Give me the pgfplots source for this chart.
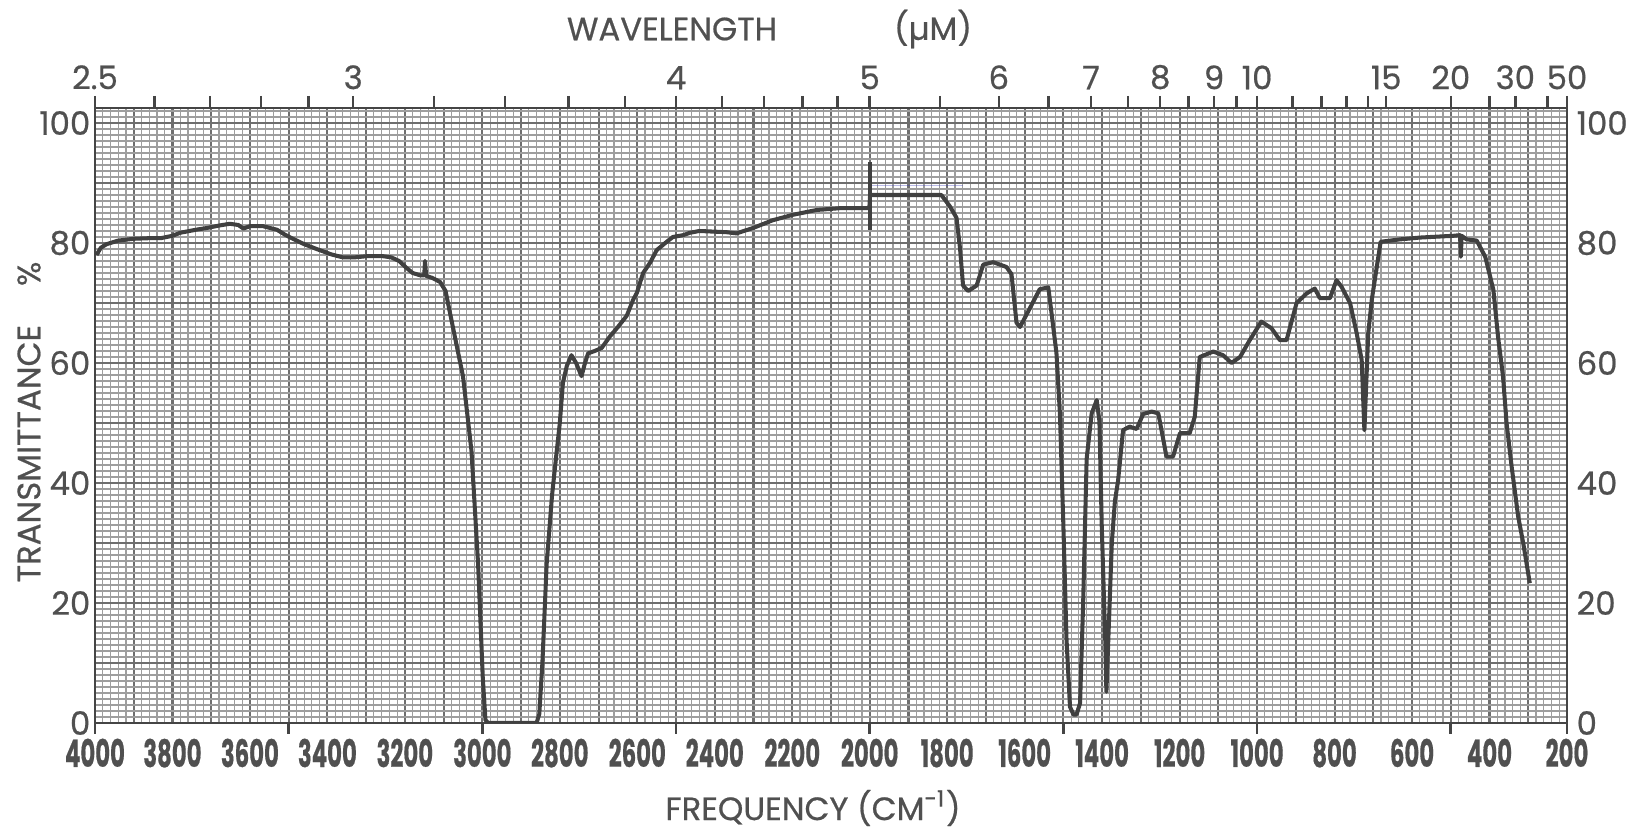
\documentclass[border=0pt]{standalone}
\usepackage{pgfplots}
\pgfplotsset{compat=1.18}
\usepackage{fontspec}
\setmainfont{Poppins}
\newfontfamily\medfont{Poppins}[FakeBold=0.6]
\usepackage{graphicx}
\definecolor{txt}{HTML}{505050}
\definecolor{ink}{HTML}{404040}
\definecolor{frame}{HTML}{454545}
\definecolor{gmaj}{HTML}{6E6E6E}
\definecolor{gmin}{HTML}{9E9E9E}
\newcommand{\cn}[1]{\scalebox{0.6}[1]{\fontsize{10.8}{12}\selectfont\bfseries #1}}

\begin{document}
\begin{tikzpicture}[x=1mm,y=1mm]
\fontsize{9.2}{11}\selectfont\medfont
\path[use as bounding box] (-9.5,-10.7) rectangle (153.9,72.3);
% chart paper, bottom and left scales
\begin{axis}[
  scale only axis, width=147.2mm, height=61.5mm,
  at={(0,0)}, anchor=south west,
  xmin=200, xmax=4000, x dir=reverse,
  ymin=0, ymax=102.5,
  axis x line*=bottom, axis y line*=left,
  axis line style={frame, line width=0.8pt},
  scaled x ticks=false,
  xtick={200,300,...,4000},
  minor xtick={200,220,...,4000},
  xticklabels={\cn{200},,\cn{400},,\cn{600},,\cn{800},,\cn{1000},,\cn{1200},,\cn{1400},,\cn{1600},,\cn{1800},,\cn{2000},,\cn{2200},,\cn{2400},,\cn{2600},,\cn{2800},,\cn{3000},,\cn{3200},,\cn{3400},,\cn{3600},,\cn{3800},,\cn{4000}},
  ytick={0,10,...,100},
  minor ytick={0,1,...,102},
  yticklabels={0,,20,,40,,60,,80,,100},
  grid=both,
  major grid style={gmaj, line width=0.6pt},
  minor grid style={gmin, line width=0.32pt},
  major tick length=0pt, minor tick length=0pt,
  xticklabel style={text=txt, inner sep=0pt, anchor=north, yshift=-1.5mm},
  yticklabel style={text=txt, inner sep=0pt, anchor=east, xshift=-0.4mm},
  extra x ticks={200,500,1000,1500,2000,2500,3000,3500,4000},
  extra x tick labels={},
  extra x tick style={grid=none, major tick length=1.1mm, tick align=outside,
    tick style={frame, line width=0.8pt}},
]
\addplot[blue!50!gray, opacity=0.35, line width=0.4pt] coordinates {(2000,89.6) (1760,89.6)};
\addplot[ink, line width=1.2pt] coordinates {(2000,82.2) (2000,93.5)};
\addplot[ink, line width=1.15pt, line join=round] coordinates {
(3996,78.0) (3985,79.2) (3970,79.8) (3940,80.4) (3900,80.7) (3860,80.8)
(3830,80.8) (3800,81.2) (3780,81.7) (3740,82.2) (3711,82.5) (3680,82.9)
(3652,83.2) (3630,83.0) (3617,82.4) (3600,82.8) (3566,82.8) (3530,82.2)
(3510,81.4) (3489,80.7) (3460,79.8) (3428,79.0) (3390,78.1) (3360,77.6)
(3330,77.6) (3298,77.8) (3257,77.8) (3235,77.6) (3215,77.0) (3195,75.8)
(3180,75.0) (3160,74.6) (3150,74.6) (3148,77.0) (3145,74.5) (3130,74.2)
(3109,73.5) (3095,72.0) (3084,68.5) (3065,62.5) (3050,57.8) (3028,45.3)
(3011,26.5) (2999,7.7) (2992,0.5) (2985,0) (2860,0) (2853,1.5)
(2845,10) (2834,26.5) (2820,38) (2808,45.3) (2800,50) (2792,56.7)
(2782,59.5) (2770,61.3) (2758,60) (2744,57.8) (2735,60) (2727,61.6)
(2710,62) (2692,62.5) (2671,64.4) (2650,66) (2627,67.9) (2611,70.5)
(2601,71.7) (2585,75) (2567,76.7) (2550,78.8) (2524,80.2) (2508,81)
(2482,81.3) (2464,81.7) (2440,82) (2405,81.9) (2370,81.8) (2344,81.6)
(2301,82.5) (2250,83.8) (2198,84.7) (2137,85.5) (2077,85.8) (2001,85.8)
(1999,88) (1815,88) (1793,86.1) (1776,84.2) (1767,79.2) (1759,72.9)
(1746,72) (1724,72.9) (1707,76.4) (1681,76.8) (1647,76) (1634,74.8)
(1621,66.7) (1612,66) (1586,69.2) (1561,72.3) (1539,72.6) (1531,68.5)
(1518,61.7) (1509,51.6) (1500,32.8) (1492,14) (1483,2.7) (1474,1.4)
(1466,1.4) (1457,3.3) (1449,20) (1440,44) (1427,51.6) (1414,53.8)
(1407,50.3) (1401,32.8) (1392,14) (1389,5.2) (1384,14) (1375,30)
(1367,37) (1359,40.3) (1346,48.8) (1329,49.4) (1311,49) (1294,51.5)
(1272,51.9) (1255,51.6) (1242,47.2) (1234,44.4) (1217,44.4) (1199,48.3)
(1174,48.3) (1161,51) (1148,61) (1113,61.9) (1088,61.3) (1066,60)
(1044,61) (1019,63.8) (989,66.9) (963,65.8) (941,63.8) (924,63.8)
(898,70) (872,71.6) (851,72.4) (838,70.8) (812,70.8) (795,73.8)
(782,72.7) (760,70) (743,65) (730,60.5) (723,48.8) (713,65)
(704,70.5) (691,76) (681,80.2) (631,80.6) (580,80.9) (493,81.2)
(476,81.3) (474,77.7) (472,81.2) (459,80.6) (433,80.4) (411,77.7)
(390,72.2) (378,64.4) (365,57.7) (356,50) (343,42.8) (326,34.4)
(313,30) (296,23.3)
};
\end{axis}
% wavelength scale on top, percent scale on the right
\begin{axis}[
  scale only axis, width=147.2mm, height=61.5mm,
  at={(0,0)}, anchor=south west,
  xmin=200, xmax=4000, x dir=reverse,
  ymin=0, ymax=102.5,
  axis x line*=top, axis y line*=right,
  axis line style={frame, line width=0.8pt},
  scaled x ticks=false,
  xtick={4000,3846.2,3703.7,3571.4,3448.3,3333.3,3125,2941.2,2777.8,2631.6,
    2500,2381,2272.7,2173.9,2083.3,2000,1818.2,1666.7,1538.5,1428.6,1333.3,
    1250,1176.5,1111.1,1052.6,1000,909.1,833.3,769.2,714.3,666.7,500,400,
    333.3,250,200},
  xticklabels={2.5,,,,,3,,,,,4,,,,,5,,6,,7,,8,,9,,10,,,,,15,20,,30,,50},
  tick align=outside,
  major tick length=1.2mm,
  xtick style={frame, line width=0.7pt},
  ytick={0,20,...,100},
  yticklabels={0,20,40,60,80,100},
  ytick style={draw=none},
  xticklabel style={text=txt, inner sep=0pt, anchor=south, yshift=0.6mm},
  yticklabel style={text=txt, inner sep=0pt, anchor=west, xshift=-0.3mm},
]
\addplot[draw=none] coordinates {(1000,50)};
\end{axis}
\node[text=txt, rotate=90] at (-6.6,30.1) {TRANSMITTANCE\hspace{1.2em}\%};
\node[text=txt] at (57.7,69.4) {WAVELENGTH};
\node[text=txt] at (83.8,69.4) {(µM)};
\node[text=txt] at (71.8,-8.5) {FREQUENCY (CM\textsuperscript{-1})};
\end{tikzpicture}
\end{document}
